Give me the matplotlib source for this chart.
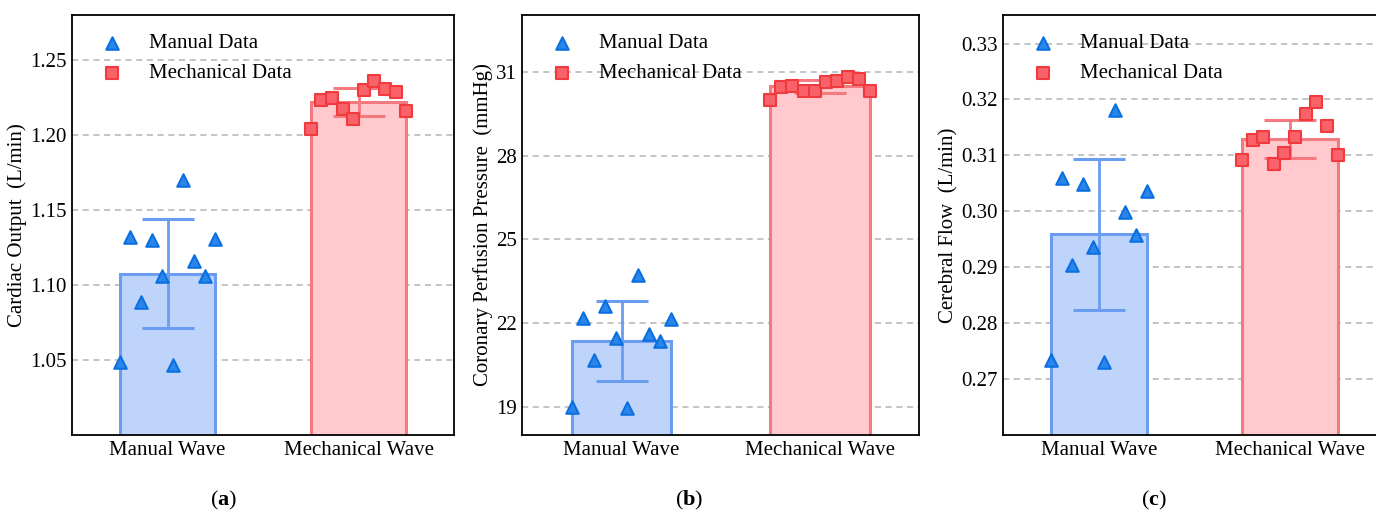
import numpy as np
import matplotlib
matplotlib.use("Agg")
import matplotlib.pyplot as plt

plt.rcParams['font.family'] = ['Liberation Serif', 'DejaVu Serif']
plt.rcParams['mathtext.fontset'] = 'custom'
plt.rcParams['mathtext.rm'] = 'Liberation Serif'
plt.rcParams['mathtext.bf'] = 'Liberation Serif:bold'

categories = ["Manual Wave", "Mechanical Wave"]
legend_labels = ["Manual Data", "Mechanical Data"]
panel_tags = ["a", "b", "c"]

# Panel (a): Cardiac Output (L/min)
co_manual = [1.049, 1.132, 1.089, 1.130, 1.106, 1.047, 1.170, 1.116, 1.106, 1.131]
co_mech = [1.204, 1.223, 1.2245, 1.2176, 1.2105, 1.2298, 1.2358, 1.2305, 1.2289, 1.2158]

# Panel (b): Coronary Perfusion Pressure (mmHg)
cpp_manual = [19.01, 22.19, 20.68, 22.61, 21.48, 18.95, 23.74, 21.61, 21.36, 22.14]
cpp_mech = [29.99, 30.44, 30.49, 30.32, 30.32, 30.64, 30.68, 30.82, 30.74, 30.31]

# Panel (c): Cerebral Flow (L/min)
cf_manual = [0.2734, 0.3059, 0.2904, 0.3048, 0.2937, 0.2731, 0.3182, 0.2998, 0.2958, 0.3037]
cf_mech = [0.3091, 0.3127, 0.3132, 0.3085, 0.3104, 0.3133, 0.3174, 0.3195, 0.3153, 0.3101]

ylabels = ["Cardiac Output  (L/min)", "Coronary Perfusion Pressure  (mmHg)", "Cerebral Flow  (L/min)"]
ylims = [(1.0, 1.28), (18.0, 33.03), (0.26, 0.3351)]
yticks = [[1.05, 1.10, 1.15, 1.20, 1.25], [19, 22, 25, 28, 31], [0.27, 0.28, 0.29, 0.30, 0.31, 0.32, 0.33]]
ytick_fmt = ["{:.2f}", "{:.0f}", "{:.2f}"]

panels = [(co_manual, co_mech), (cpp_manual, cpp_mech), (cf_manual, cf_mech)]

W, H = 1376, 513
fig = plt.figure(figsize=(W / 100, H / 100), dpi=100)

# axes boxes in pixels: left, width
boxes = [(72, 382), (522.3, 397), (1003.3, 382)]
top_px, bot_px = 15, 435
tag_x = [224, 689, 1154]

face_cols = ["#bfd4fb", "#ffc9ce"]
edge_cols = ["#6a9cf0", "#f47a80"]
mk_face = ["#2a86ea", "#f86268"]
mk_edge = ["#0a6fe0", "#f03a3e"]
markers = ["^", "s"]
msizes = [9, 8]
fs = 15

for i, (data, box) in enumerate(zip(panels, boxes)):
    l, w = box
    ax = fig.add_axes([l / W, (H - bot_px) / H, w / W, (bot_px - top_px) / H])
    ax.set_xlim(-0.5, 1.5)
    ax.set_ylim(*ylims[i])
    ax.set_yticks(yticks[i])
    ax.set_yticklabels([ytick_fmt[i].format(v) for v in yticks[i]])
    ax.yaxis.grid(True, linestyle=(0, (4, 3)), color="#b4b4b4", linewidth=1.1, zorder=0)
    ax.set_axisbelow(True)
    handles = []
    for j, vals in enumerate(data):
        vals = np.asarray(vals)
        m = vals.mean()
        s = vals.std()
        ax.bar(j, m, width=0.5, color=face_cols[j], edgecolor=edge_cols[j],
               linewidth=2.2, zorder=2)
        ax.errorbar(j, m, yerr=s, color=edge_cols[j], elinewidth=2.0,
                    capsize=19, capthick=2.2, zorder=3, fmt="none")
        xs = j + np.linspace(-0.25, 0.25, len(vals))
        h = ax.scatter(xs, vals, marker=markers[j], s=msizes[j] ** 2,
                       facecolor=mk_face[j], edgecolor=mk_edge[j], linewidth=1.5,
                       zorder=4, label=legend_labels[j])
        handles.append(h)
    ax.set_xticks([0, 1])
    ax.set_xticklabels(categories, fontsize=fs)
    ax.tick_params(axis="both", length=0, labelsize=fs)
    ax.tick_params(axis="x", pad=4)
    ax.tick_params(axis="y", pad=4)
    ax.set_ylabel(ylabels[i], fontsize=fs, labelpad=2)
    for sp in ax.spines.values():
        sp.set_color("black")
        sp.set_linewidth(1.3)
    ax.legend(handles=handles, loc="upper left", frameon=False, fontsize=fs,
              scatterpoints=1)
    fig.text(tag_x[i] / W, (H - 500) / H, "(" + r"$\mathbf{" + panel_tags[i] + "}$" + ")",
             ha="center", va="center", fontsize=fs + 1)

fig.savefig("out.png", dpi=100)
